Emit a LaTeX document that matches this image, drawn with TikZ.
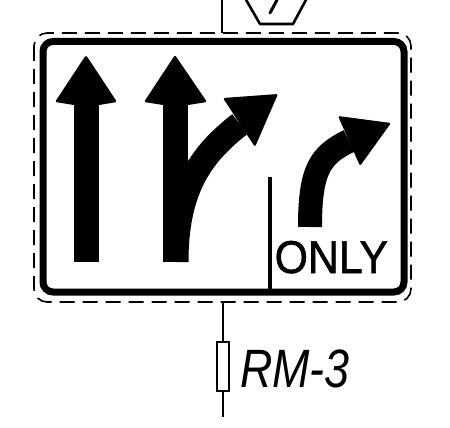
\documentclass[tikz,border=0pt]{standalone}
\usepackage{fontspec}
\setmainfont{Liberation Sans}
\newfontfamily\onlyfont[FakeBold=1.2]{Liberation Sans}
\begin{document}
\begin{tikzpicture}[x=1pt,y=-1pt,
  post/.style={line width=2.8pt},
  signedge/.style={line width=7pt, rounded corners=10pt},
  cutline/.style={line width=1.6pt, dash pattern=on 15pt off 8pt, rounded corners=13pt},
  arrowhd/.style={fill=black, rounded corners=1.5pt},
  label/.style={inner sep=0pt, anchor=base west}]
\useasboundingbox[fill=white] (0,0) rectangle (450,428);
% sign above (bottom part)
\draw[post] (222,0) -- (222,33);
\draw[line width=2.6pt, line join=round] (245,-2) -- (260,24) -- (293,24) -- (307,-2);
\draw[line width=3pt, line cap=round] (277,0) -- (270,13);
% cut line (dashed outline)
\draw[cutline] (34,33) rectangle (411,302);
% sign border
\draw[signedge] (43,41.5) rectangle (404,292);
% straight arrow 1
\fill (74,103) rectangle (99,262);
\fill[arrowhd] (86,55) -- (117,102) -- (99,105) -- (74,105) -- (55,102) -- cycle;
% straight arrow 2 with branch
\fill (163,103) rectangle (188,262);
\fill[arrowhd] (175,55) -- (207,102) -- (188,105) -- (163,105) -- (144,102) -- cycle;
\draw[line width=25pt] (176,262) .. controls (176,190) and (200,155) .. (240,124);
\fill[arrowhd] (278,94) -- (255,147) -- (223,98) -- cycle;
% lane divider
\draw[line width=4.5pt] (270,177) -- (270,292);
% right-turn arrow
\draw[line width=24pt] (310,227) .. controls (310,170) and (320,155) .. (349,141);
\fill[arrowhd] (391,123) -- (360,166) -- (338,116) -- cycle;
% ONLY
\node[label] (only) at (274.5,273) {\onlyfont\fontsize{46}{46}\selectfont\scalebox{0.93}[1]{ONLY}};
% post below
\draw[post] (223,302) -- (223,417);
\node[draw, fill=white, line width=1.2pt, minimum width=12pt, minimum height=49pt, inner sep=0pt] (plate) at (223,366.5) {};
\node[label] (rm) at (240,387) {\fontsize{54}{54}\selectfont\itshape\scalebox{0.83}[1]{RM-3}};
\end{tikzpicture}
\end{document}
